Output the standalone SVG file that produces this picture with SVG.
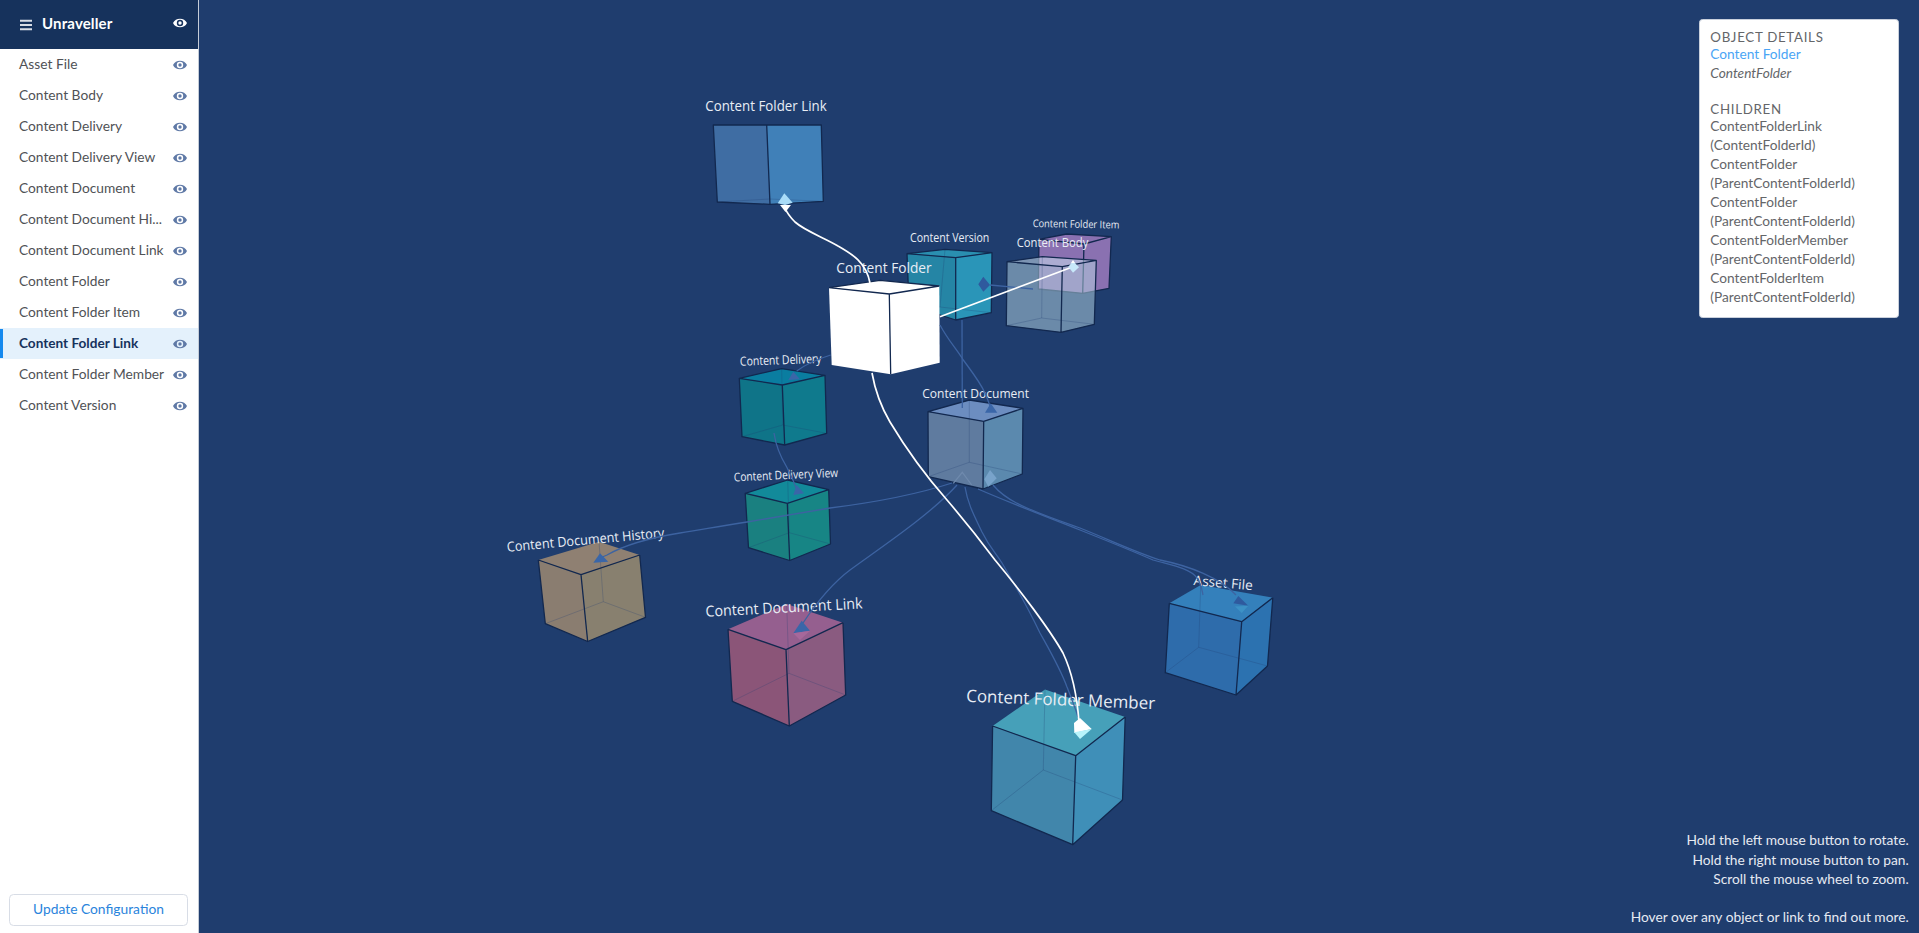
<svg xmlns="http://www.w3.org/2000/svg" width="1919" height="933" viewBox="0 0 1919 933">
<style>
text{font-family:"Lato","Open Sans","Liberation Sans",sans-serif}
.row{font-size:13.75px;fill:#505256}
.row.on{font-weight:700;fill:#16325c;font-size:13.6px}
.eye{fill:#5f79a6}
.panel{font-size:13.7px;fill:#646669}
.caps{letter-spacing:.7px;font-size:13.3px}
.help{font-size:13.75px;fill:#e6eaf2;text-anchor:end}
.lbl{font-family:"Open Sans","Liberation Sans",sans-serif;fill:#e8edf5}
.e{fill:none;stroke:#12284f;stroke-width:1.3;stroke-linejoin:round}
.i{fill:none;stroke:#1f3d6e;stroke-opacity:.25;stroke-width:1}
.lk{fill:none;stroke:#3d63a1;stroke-width:1.3}
.wl{fill:none;stroke:#fff;stroke-width:1.7}
.ah{fill:#3a66a8}
#n-link .l{fill:#3f6da3}#n-link .r{fill:#4080b8}
#n-item .l,#n-item .r,#n-item .t{fill:#8a71b1}
#n-version .l{fill:#2585a5}#n-version .r{fill:#2a95b8}#n-version .t{fill:#2a8fb0}
#n-body .l,#n-body .r{fill:#b8d8e4;fill-opacity:.5}#n-body .t{fill:#c8dcec;fill-opacity:.55}
#n-folder .l,#n-folder .r,#n-folder .t{fill:#fff}
#n-delivery .l{fill:#0f7488}#n-delivery .r{fill:#0f7a8d}#n-delivery .t{fill:#0a7da0}
#n-view .l{fill:#1a8080}#n-view .r{fill:#178585}#n-view .t{fill:#128a9a}
#n-doc .l{fill:#5f7b9f}#n-doc .r{fill:#5b89ae}#n-doc .t{fill:#6c8dc0}
#n-history .l{fill:#8a7d70}#n-history .r{fill:#88806f}#n-history .t{fill:#8f8072}
#n-doclink .l{fill:#8b5578}#n-doclink .r{fill:#8a5b80}#n-doclink .t{fill:#955f8f}
#n-asset .l{fill:#2e6cab}#n-asset .r{fill:#2c72b0}#n-asset .t{fill:#3480bb}
#n-member .l{fill:#4186ab}#n-member .r{fill:#3f8fb8}#n-member .t{fill:#46a0b9}
</style>
<defs>
<path id="eye" fill-rule="evenodd" d="M-7 0C-4.5-5.8 4.5-5.8 7 0C4.5 5.8-4.5 5.8-7 0ZM-3.2 0A3.2 3.2 0 1 0 3.2 0A3.2 3.2 0 1 0-3.2 0ZM-1.7 0A1.7 1.7 0 1 1 1.7 0A1.7 1.7 0 1 1-1.7 0Z"/>
</defs>
<rect width="1919" height="933" fill="#1f3d6e"/>

<g id="n-link">
<polygon class="l" points="713.3,125 766.7,125 770,204.3 717.3,202"/>
<polygon class="r" points="766.7,125 821.3,125 823.3,201.3 770,204.3"/>
<path class="i" d="M717.3 202L770 199L823.3 201.3"/>
<path class="e" d="M713.3 125L766.7 125L821.3 125L823.3 201.3L770 204.3L717.3 202ZM766.7 125L770 204.3"/>
<text class="lbl" x="705.3" y="110.5" font-size="15" textLength="121.4" lengthAdjust="spacingAndGlyphs">Content Folder Link</text>
</g>
<g id="n-item">
<polygon class="l" points="1039,239.3 1084,244 1082.7,293.3 1038.3,289"/>
<polygon class="r" points="1084,244 1111.3,236.7 1109,288.3 1082.7,293.3"/>
<polygon class="t" points="1039,239.3 1066.7,234 1111.3,236.7 1084,244"/>
<path class="e" d="M1039 239.3L1066.7 234L1111.3 236.7L1109 288.3L1082.7 293.3L1038.3 289ZM1039 239.3L1084 244L1111.3 236.7M1084 244L1082.7 293.3"/>
<text class="lbl" x="1032.7" y="227" font-size="10.5" textLength="86.6" lengthAdjust="spacingAndGlyphs" transform="rotate(1 1032.7 227)">Content Folder Item</text>
</g>
<g id="n-version">
<polygon class="l" points="907,253.7 955.7,257.7 955.7,320 909,305"/>
<polygon class="r" points="955.7,257.7 992,252.7 991.3,312.7 955.7,320"/>
<polygon class="t" points="907,253.7 945,249.3 992,252.7 955.7,257.7"/>
<path class="i" d="M945 249.3L940 307L991.3 312.7M940 307L909 305"/>
<path class="e" d="M907 253.7L945 249.3L992 252.7L991.3 312.7L955.7 320L909 305ZM907 253.7L955.7 257.7L992 252.7M955.7 257.7L955.7 320"/>
<text class="lbl" x="910" y="241.7" font-size="12" textLength="79.3" lengthAdjust="spacingAndGlyphs">Content Version</text>
</g>
<g id="n-body">
<polygon class="l" points="1007,261.7 1062.3,266.7 1061,332.3 1006.3,325.7"/>
<polygon class="r" points="1062.3,266.7 1096.3,260.3 1094.3,324.3 1061,332.3"/>
<polygon class="t" points="1007,261.7 1042.3,256.7 1096.3,260.3 1062.3,266.7"/>
<path class="i" d="M1042.3 256.7L1041.7 318L1006.3 325.7M1041.7 318L1094.3 324.3"/>
<path class="e" d="M1007 261.7L1042.3 256.7L1096.3 260.3L1094.3 324.3L1061 332.3L1006.3 325.7ZM1007 261.7L1062.3 266.7L1096.3 260.3M1062.3 266.7L1061 332.3"/>
<text class="lbl" x="1016.7" y="247.3" font-size="12.5" textLength="71.6" lengthAdjust="spacingAndGlyphs">Content Body</text>
</g>
<g id="n-folder">
<polygon class="l" points="829,287.7 889.3,294 890.7,374.3 831.7,365"/>
<polygon class="r" points="889.3,294 939.3,286 939.7,362.7 890.7,374.3"/>
<polygon class="t" points="829,287.7 880,280.3 939.3,286 889.3,294"/>
<path class="e" d="M829 287.7L880 280.3L939.3 286M829 287.7L889.3 294L939.3 286M889.3 294L890.7 374.3"/>
<text class="lbl" x="836.3" y="272.7" font-size="15" textLength="95.4" lengthAdjust="spacingAndGlyphs">Content Folder</text>
</g>
<g id="n-delivery">
<polygon class="l" points="739.3,378.3 782.3,385 784.7,445 742,436.7"/>
<polygon class="r" points="782.3,385 825,375.3 826.7,433.3 784.7,445"/>
<polygon class="t" points="739.3,378.3 781.7,368.7 825,375.3 782.3,385"/>
<path class="i" d="M781.7 368.7L782.7 425L742 436.7M782.7 425L826.7 433.3"/>
<path class="e" d="M739.3 378.3L781.7 368.7L825 375.3L826.7 433.3L784.7 445L742 436.7ZM739.3 378.3L782.3 385L825 375.3M782.3 385L784.7 445"/>
<text class="lbl" x="740" y="365.7" font-size="12.5" textLength="81.7" lengthAdjust="spacingAndGlyphs" transform="rotate(-2 740 365.7)">Content Delivery</text>
</g>
<g id="n-view">
<polygon class="l" points="745.2,493.3 787.3,503.3 789.7,560.5 748.5,547.7"/>
<polygon class="r" points="787.3,503.3 828.7,489.7 830.5,544 789.7,560.5"/>
<polygon class="t" points="745.2,493.3 787.7,480 828.7,489.7 787.3,503.3"/>
<path class="i" d="M787.7 480L789.3 532.7L748.5 547.7M789.3 532.7L830.5 544"/>
<path class="e" d="M745.2 493.3L787.7 480L828.7 489.7L830.5 544L789.7 560.5L748.5 547.7ZM745.2 493.3L787.3 503.3L828.7 489.7M787.3 503.3L789.7 560.5"/>
<text class="lbl" x="734" y="481.4" font-size="12" textLength="104.4" lengthAdjust="spacingAndGlyphs" transform="rotate(-2.5 734 481.4)">Content Delivery View</text>
</g>
<g id="n-doc">
<polygon class="l" points="928,411.7 983.7,421.3 983,489 928.3,476.7"/>
<polygon class="r" points="983.7,421.3 1023,408.3 1022.3,474 983,489"/>
<polygon class="t" points="928,411.7 969.3,400 1023,408.3 983.7,421.3"/>
<path class="i" d="M969.3 400L969.3 462.3L928.3 476.7M969.3 462.3L1022.3 474"/>
<path class="e" d="M928 411.7L969.3 400L1023 408.3L1022.3 474L983 489L928.3 476.7ZM928 411.7L983.7 421.3L1023 408.3M983.7 421.3L983 489"/>
<text class="lbl" x="922.3" y="398" font-size="13.5" textLength="106.7" lengthAdjust="spacingAndGlyphs">Content Document</text>
</g>
<g id="n-history">
<polygon class="l" points="538.3,560 581,574.7 587.7,641.5 545.3,623.7"/>
<polygon class="r" points="581,574.7 639.7,555 645.5,617.3 587.7,641.5"/>
<polygon class="t" points="538.3,560 599,541.7 639.7,555 581,574.7"/>
<path class="i" d="M599 541.7L603.3 601.7L545.3 623.7M603.3 601.7L645.5 617.3"/>
<path class="e" d="M538.3 560L581 574.7L639.7 555M581 574.7L587.7 641.5M538.3 560L545.3 623.7L587.7 641.5L645.5 617.3L639.7 555"/>
<text class="lbl" x="507.3" y="551.7" font-size="13.5" textLength="158" lengthAdjust="spacingAndGlyphs" transform="rotate(-5.2 507.3 551.7)">Content Document History</text>
</g>
<g id="n-doclink">
<polygon class="l" points="728,629.3 786,649.7 789.3,726 732.3,701.3"/>
<polygon class="r" points="786,649.7 843,622.7 845.7,695 789.3,726"/>
<polygon class="t" points="728,629.3 786.7,604 843,622.7 786,649.7"/>
<path class="i" d="M786.7 604L789 673.3L732.3 701.3M789 673.3L845.7 695"/>
<path class="e" d="M728 629.3L786 649.7L843 622.7M786 649.7L789.3 726M728 629.3L732.3 701.3L789.3 726L845.7 695L843 622.7"/>
<text class="lbl" x="705.7" y="616.7" font-size="15" textLength="157.2" lengthAdjust="spacingAndGlyphs" transform="rotate(-3 705.7 616.7)">Content Document Link</text>
</g>
<g id="n-asset">
<polygon class="l" points="1169.3,603.3 1241.7,621.7 1236,695 1165.3,672.7"/>
<polygon class="r" points="1241.7,621.7 1272.8,597.7 1267.5,666 1236,695"/>
<polygon class="t" points="1169.3,603.3 1200.7,585 1272.8,597.7 1241.7,621.7"/>
<path class="i" d="M1200.7 585L1198.7 647.3L1165.3 672.7M1198.7 647.3L1267.5 666"/>
<path class="e" d="M1169.3 603.3L1241.7 621.7L1272.8 597.7M1241.7 621.7L1236 695M1169.3 603.3L1165.3 672.7L1236 695L1267.5 666L1272.8 597.7"/>
<text class="lbl" x="1193.3" y="585" font-size="13.5" textLength="59.2" lengthAdjust="spacingAndGlyphs" transform="rotate(5 1193.3 585)">Asset File</text>
</g>
<g id="n-member">
<polygon class="l" points="992.6,726 1075.7,755.7 1072.7,844.7 991.3,810.7"/>
<polygon class="r" points="1075.7,755.7 1125.2,717 1122.5,800 1072.7,844.7"/>
<polygon class="t" points="992.6,726 1045,689.5 1125.2,717 1075.7,755.7"/>
<path class="i" d="M1045 689.5L1043.3 770L991.3 810.7M1043.3 770L1122.5 800"/>
<path class="e" d="M992.6 726L1075.7 755.7L1125.2 717M1075.7 755.7L1072.7 844.7M992.6 726L991.3 810.7L1072.7 844.7L1122.5 800L1125.2 717"/>
<text class="lbl" x="966" y="701.7" font-size="17" textLength="189" lengthAdjust="spacingAndGlyphs" transform="rotate(2.3 966 701.7)">Content Folder Member</text>
</g>

<g id="connectors">
<path class="lk" d="M962 320L962.3 408"/>
<path class="lk" d="M940 325C948 340 955 347 963.3 360C972 372 980 382 985 393C988 400 990 405 991 410"/>
<path class="lk" d="M830.7 355C818 359 806 364 796.7 371"/>
<path class="lk" d="M774 433C776 447 780 456 786.7 467C791 475 794 482 797 490"/>
<path class="lk" d="M990 285L1033 289"/>
<path class="lk" d="M965 487C968 505 975 517 982 532C990 548 995 552 1002 563C1015 585 1030 612 1040 633C1050 651 1060 668 1067 687C1071 697 1075 707 1078 717"/>
<path class="lk" d="M952 483C915 495 870 503 830 508C800 513 770 518 747 522C720 526 700 530 680 533C655 537 628 543 607 555L600 558"/>
<path class="lk" d="M957 485C930 515 880 548 850 570C830 585 815 605 803 623"/>
<path class="lk" d="M978 489C1015 505 1050 518 1080 530C1105 540 1135 552 1153 560C1170 565 1190 568 1197 578C1201 583 1202 590 1203 595"/>
<path class="lk" d="M993 485C1003 497 1015 503 1027 508C1045 516 1060 521 1080 528C1110 540 1135 552 1160 560C1190 566 1220 578 1236 595"/>
<polygon class="ah" points="985,412.7 990.7,403.3 997.3,412.7"/>
<polygon class="ah" points="788.3,380 793.3,371.7 800,379.3"/>
<polygon class="ah" points="793.3,495 796.7,485 804,493.3"/>
<polygon class="ah" points="593.3,562.7 600,553.3 608.3,561.7"/>
<polygon class="ah" points="793.3,633.3 801.7,620.7 810,630.7"/>
<polygon fill="#a6689b" points="793.3,633.3 810,630.7 800,640"/>
<polygon fill="#2f5a9e" points="1233.3,603.3 1238.3,596 1248.3,605.7"/>
<polygon fill="#3d91c5" points="1235,606.5 1248.3,605.7 1241.7,613"/>
<polygon fill="#2f5a9e" points="978.3,284.3 983.3,276.7 990,285 983.3,291.7"/>
<polygon fill="#78a3ca" points="984.3,479.3 990,470 996.7,478.3 988.3,486.7"/>
<path fill="none" stroke="#6f8aad" stroke-width="1.2" d="M953.3 483.3L962.3 472.3L971.7 485"/>
<path class="wl" d="M870 283C866 262 852 254 838 246C825 238 805 231 795 222C790 217 787 213 785 208"/>
<path class="wl" d="M872 373C875 390 880 405 890 422C905 447 925 475 947 500C965 521 980 540 995 560C1020 590 1050 630 1063 653C1072 672 1077 695 1079 722"/>
<path class="wl" d="M940 316.7L1073 266.7"/>
<polygon fill="#fff" points="780,205 791,205 785.5,212"/>
<polygon fill="#a9dcf8" points="777.7,203.3 784.3,193.3 792.7,202.7 785,205"/>
<polygon fill="#c8e8fa" points="1068.3,266.7 1073,261 1079,267.3 1073,272.7"/>
<polygon fill="#fff" points="1071,263 1073,260 1075,263"/>
<polygon fill="#fff" points="1074,723 1080,718 1091.7,729 1074.3,733"/>
<polygon fill="#b8f4fb" points="1074.3,732.3 1091.7,729 1080,739"/>
</g>

<g id="sidebar">
<rect width="198" height="933" fill="#fff"/>
<rect x="198" width="1" height="933" fill="#c4ccd8"/>
<rect width="198" height="49" fill="#16325c"/>
<path d="M20 20.7H32M20 25H32M20 29.3H32" stroke="#d8dde6" stroke-width="2"/>
<text x="42" y="28.5" font-size="15" font-weight="700" fill="#fff" letter-spacing=".15">Unraveller</text>
<use href="#eye" x="180" y="23" fill="#fff"/>
<rect y="328" width="198" height="31" fill="#e4f1fc"/>
<rect y="329" width="3" height="29" fill="#1589ee"/>
<text class="row" x="19" y="69">Asset File</text>
<text class="row" x="19" y="100">Content Body</text>
<text class="row" x="19" y="131">Content Delivery</text>
<text class="row" x="19" y="162">Content Delivery View</text>
<text class="row" x="19" y="193">Content Document</text>
<text class="row" x="19" y="224">Content Document Hi...</text>
<text class="row" x="19" y="255">Content Document Link</text>
<text class="row" x="19" y="286">Content Folder</text>
<text class="row" x="19" y="317">Content Folder Item</text>
<text class="row on" x="19" y="348">Content Folder Link</text>
<text class="row" x="19" y="379">Content Folder Member</text>
<text class="row" x="19" y="410">Content Version</text>
<g class="eye">
<use href="#eye" x="180" y="65"/><use href="#eye" x="180" y="96"/><use href="#eye" x="180" y="127"/><use href="#eye" x="180" y="158"/><use href="#eye" x="180" y="189"/><use href="#eye" x="180" y="220"/><use href="#eye" x="180" y="251"/><use href="#eye" x="180" y="282"/><use href="#eye" x="180" y="313"/><use href="#eye" x="180" y="344"/><use href="#eye" x="180" y="375"/><use href="#eye" x="180" y="406"/>
</g>
<rect x="9.5" y="894.5" width="178" height="31" rx="4" fill="#fff" stroke="#d8dde6"/>
<text x="98.5" y="914" font-size="13.8" fill="#2a84dc" text-anchor="middle">Update Configuration</text>
</g>

<g id="details">
<rect x="1699.5" y="19.5" width="199" height="298" rx="3" fill="#fff" stroke="#c9d0dc"/>
<text class="panel caps" x="1710.3" y="42">OBJECT DETAILS</text>
<text class="panel" x="1710.3" y="59" style="fill:#4aa5f5">Content Folder</text>
<text class="panel" x="1710.3" y="77.7" font-style="italic">ContentFolder</text>
<text class="panel caps" x="1710.3" y="114.3">CHILDREN</text>
<text class="panel" x="1710.3" y="131">ContentFolderLink</text>
<text class="panel" x="1710.3" y="150">(ContentFolderId)</text>
<text class="panel" x="1710.3" y="169">ContentFolder</text>
<text class="panel" x="1710.3" y="188">(ParentContentFolderId)</text>
<text class="panel" x="1710.3" y="207">ContentFolder</text>
<text class="panel" x="1710.3" y="226">(ParentContentFolderId)</text>
<text class="panel" x="1710.3" y="245">ContentFolderMember</text>
<text class="panel" x="1710.3" y="264">(ParentContentFolderId)</text>
<text class="panel" x="1710.3" y="283">ContentFolderItem</text>
<text class="panel" x="1710.3" y="302">(ParentContentFolderId)</text>
</g>

<g id="help">
<text class="help" x="1908.7" y="845">Hold the left mouse button to rotate.</text>
<text class="help" x="1908.7" y="864.7">Hold the right mouse button to pan.</text>
<text class="help" x="1908.7" y="884">Scroll the mouse wheel to zoom.</text>
<text class="help" x="1908.7" y="921.7">Hover over any object or link to find out more.</text>
</g>
</svg>
